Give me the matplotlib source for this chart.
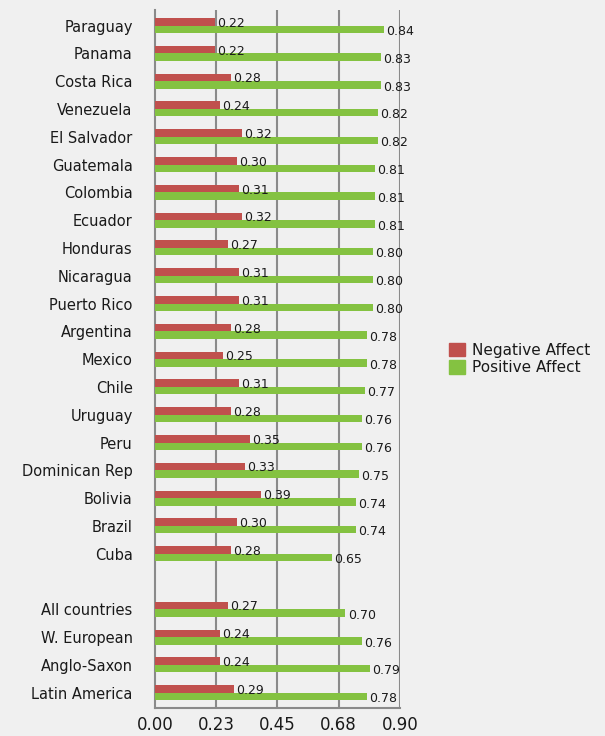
import numpy as np
import matplotlib.pyplot as plt
from matplotlib.patches import Patch

countries = ["Paraguay", "Panama", "Costa Rica", "Venezuela", "El Salvador",
             "Guatemala", "Colombia", "Ecuador", "Honduras", "Nicaragua",
             "Puerto Rico", "Argentina", "Mexico", "Chile", "Uruguay", "Peru",
             "Dominican Rep", "Bolivia", "Brazil", "Cuba", "",
             "All countries", "W. European", "Anglo-Saxon", "Latin America"]
negative = [0.22, 0.22, 0.28, 0.24, 0.32, 0.30, 0.31, 0.32, 0.27, 0.31,
            0.31, 0.28, 0.25, 0.31, 0.28, 0.35, 0.33, 0.39, 0.30, 0.28, None,
            0.27, 0.24, 0.24, 0.29]
positive = [0.84, 0.83, 0.83, 0.82, 0.82, 0.81, 0.81, 0.81, 0.80, 0.80,
            0.80, 0.78, 0.78, 0.77, 0.76, 0.76, 0.75, 0.74, 0.74, 0.65, None,
            0.70, 0.76, 0.79, 0.78]
xticks = [0.0, 0.225, 0.45, 0.675, 0.9]
xticklabels = ["0.00", "0.23", "0.45", "0.68", "0.90"]

red = "#c0504d"
green = "#84c241"
bg = "#f0f0f0"
grid = "#8a8a8a"
txt = "#1a1a1a"

fig = plt.figure(figsize=(6.05, 7.36), dpi=100, facecolor=bg)
ax = fig.add_axes([0.256, 0.038, 0.405, 0.948])
ax.set_facecolor(bg)

y = np.arange(len(countries))
h = 0.27
for i, (n, p) in enumerate(zip(negative, positive)):
    if n is None:
        continue
    ax.barh(i - h / 2, n, height=h, color=red, zorder=3)
    ax.barh(i + h / 2, p, height=h, color=green, zorder=3)
    ax.text(n + 0.008, i - h / 2 + 0.05, "%.2f" % n, va="center", ha="left",
            fontsize=9, color=txt, zorder=4)
    ax.text(p + 0.008, i + h / 2 + 0.08, "%.2f" % p, va="center", ha="left",
            fontsize=9, color=txt, zorder=4)

ax.set_ylim(len(countries) - 0.45, -0.55)
ax.set_xlim(0, 0.9)
ax.set_yticks(y)
ax.set_yticklabels(countries, fontsize=10.5, color=txt)
ax.set_xticks(xticks)
ax.set_xticklabels(xticklabels, fontsize=12, color=txt)
ax.tick_params(axis="y", length=0, pad=16)
ax.tick_params(axis="x", length=0, pad=6)

for x in xticks[1:]:
    ax.axvline(x, color=grid, linewidth=1.5, zorder=1)
for s in ["top", "right"]:
    ax.spines[s].set_visible(False)
for s in ["left", "bottom"]:
    ax.spines[s].set_color(grid)
    ax.spines[s].set_linewidth(1.5)

handles = [Patch(color=red, label="Negative Affect"),
           Patch(color=green, label="Positive Affect")]
fig.legend(handles=handles, loc="upper left", bbox_to_anchor=(0.730, 0.545),
           frameon=False, fontsize=11, handlelength=1.0, handleheight=1.0,
           handletextpad=0.5, labelspacing=0.15, borderpad=0,
           labelcolor=txt)

fig.savefig("out.png", dpi=100, facecolor=bg)
